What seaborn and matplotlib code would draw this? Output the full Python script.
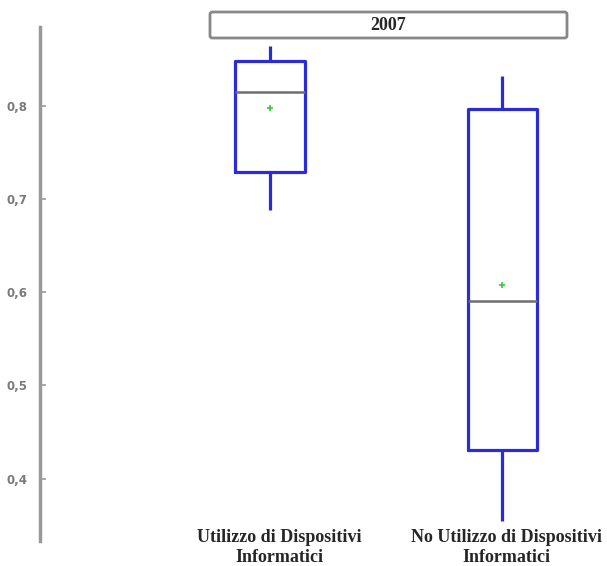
import matplotlib
matplotlib.use("Agg")
import matplotlib.pyplot as plt
from matplotlib.patches import FancyBboxPatch
from matplotlib.transforms import ScaledTranslation
import seaborn as sns
import pandas as pd

# five-number summaries
groups = ["Utilizzo di Dispositivi\nInformatici", "No Utilizzo di Dispositivi\nInformatici"]
mins = [0.688, 0.354]
q1s = [0.729, 0.431]
medians = [0.815, 0.591]
q3s = [0.848, 0.797]
maxs = [0.865, 0.832]
means = [0.798, 0.608]
yticks = [0.4, 0.5, 0.6, 0.7, 0.8]
title = "2007"

rows = []
for g, a, b, c, d, e in zip(groups, mins, q1s, medians, q3s, maxs):
    for v in (a, b, c, d, e):
        rows.append({"gruppo": g, "valore": v})
df = pd.DataFrame(rows)
df_mean = pd.DataFrame({"gruppo": groups, "valore": means})

sns.set_style("white")
fig = plt.figure(figsize=(6.07, 5.66), dpi=100)
ax = fig.add_axes([40 / 607, 25 / 566, 1 - 40 / 607, (541 - 27) / 566])

blue = "#2b2bdc"
sns.boxplot(data=df, x="gruppo", y="valore", order=groups, whis=(0, 100), width=0.3,
            fill=False, linewidth=2.3, showcaps=False, ax=ax,
            boxprops=dict(color=blue), whiskerprops=dict(color=blue),
            medianprops=dict(color="#6e6e6e", linewidth=1.8))
sns.scatterplot(data=df_mean, x="gruppo", y="valore", marker="+", color="#33cc33",
                s=25, linewidth=1.2, ax=ax, zorder=5)

ax.set_xlim(-0.99, 1.45)
ax.set_ylim(0.333, 0.885)
ax.set_yticks(yticks)
ax.set_yticklabels([f"{t:.1f}".replace(".", ",") for t in yticks], color="#7a7a7a",
                   fontsize=8.5, fontweight="bold")
ax.tick_params(axis="y", direction="in", length=4, width=1.2, color="#999999", left=True, pad=9)
ax.tick_params(axis="x", length=0, pad=-9)
for lab, dx in zip(ax.get_xticklabels(), [9, 4]):
    lab.set_family("Liberation Serif")
    lab.set_fontweight("bold")
    lab.set_fontsize(13)
    lab.set_linespacing(1.3)
    lab.set_transform(lab.get_transform() + ScaledTranslation(dx / 100, 0, fig.dpi_scale_trans))
ax.set_xlabel("")
ax.set_ylabel("")
for s in ["top", "right", "bottom"]:
    ax.spines[s].set_visible(False)
ax.spines["left"].set_color("#999999")
ax.spines["left"].set_linewidth(2.5)

# title strip
x0, x1 = 210 / 607, 567 / 607
y0, y1 = 1 - 38 / 566, 1 - 12 / 566
fig.patches.append(FancyBboxPatch((x0, y0), x1 - x0, y1 - y0, boxstyle="round,pad=0,rounding_size=0.004",
                                  transform=fig.transFigure, facecolor="white",
                                  edgecolor="#888888", linewidth=2))
fig.text((x0 + x1) / 2, (y0 + y1) / 2, title, ha="center", va="center",
         family="Liberation Serif", fontweight="bold", fontsize=13)

fig.savefig("out.png", dpi=100)
